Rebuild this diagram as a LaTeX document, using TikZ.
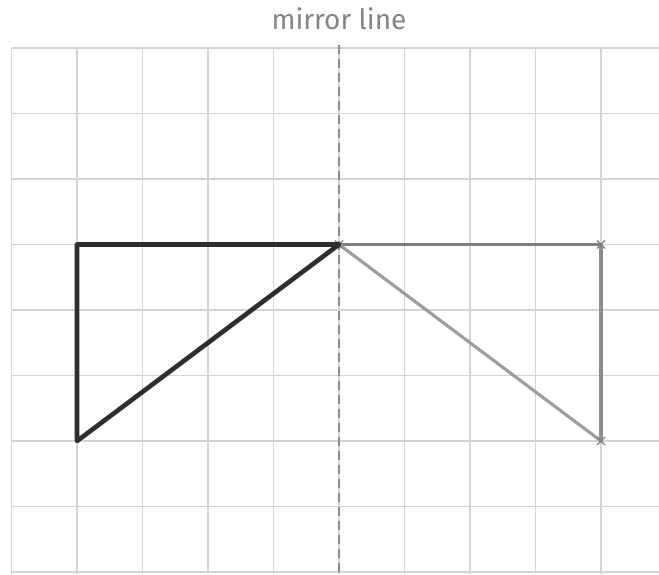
\documentclass[tikz,border=0pt]{standalone}
\usepackage{fontspec}
\setmainfont{Fira Sans}
\begin{document}
\begin{tikzpicture}[x=65.5pt,y=-65.5pt,
  gridline/.style={draw=black!17,line width=1.6pt},
  mirror/.style={draw=black!45,line width=2.6pt,dash pattern=on 9pt off 5pt},
  original/.style={draw=black!82,line width=4.6pt,line join=round,line cap=round},
  image/.style={draw=black!50,line width=3.2pt,line join=round,line cap=round},
  tick/.style={draw=black!50,line width=1.2pt},
  title/.style={text=black!48,font=\fontsize{28}{28}\selectfont}]
\useasboundingbox (-0.1756,-0.7328) rectangle (9.885,8.0305);
\fill[white] (-0.1756,-0.7328) rectangle (9.885,8.0305);
% grid
\foreach \y in {0,...,8} \draw[gridline] (0,\y) -- (9.885,\y);
\foreach \x in {0,...,9} \draw[gridline] (\x,0) -- (\x,8.0305);
% mirror line
\coordinate (mtop) at (5,-0.05);
\coordinate (mbot) at (5,8.0305);
\draw[mirror] (mtop) -- (mbot);
\node[title] (lbl) at (5,-0.45) {mirror line};
% points
\coordinate (A) at (1,3);
\coordinate (B) at (5,3);
\coordinate (C) at (1,6);
\coordinate (D) at (9,3);
\coordinate (E) at (9,6);
% image triangle
\draw[image] (B) -- (D);
\draw[image,draw=black!45] (D) -- (E);
\draw[image,draw=black!38] (E) -- (B);
\foreach \p in {B,D,E}{
  \draw[tick] ([shift={(-4pt,-4pt)}]\p) -- ([shift={(4pt,4pt)}]\p);
  \draw[tick] ([shift={(-4pt,4pt)}]\p) -- ([shift={(4pt,-4pt)}]\p);
}
% original triangle
\draw[original] (A) -- (B) -- (C) -- cycle;
\end{tikzpicture}
\end{document}
